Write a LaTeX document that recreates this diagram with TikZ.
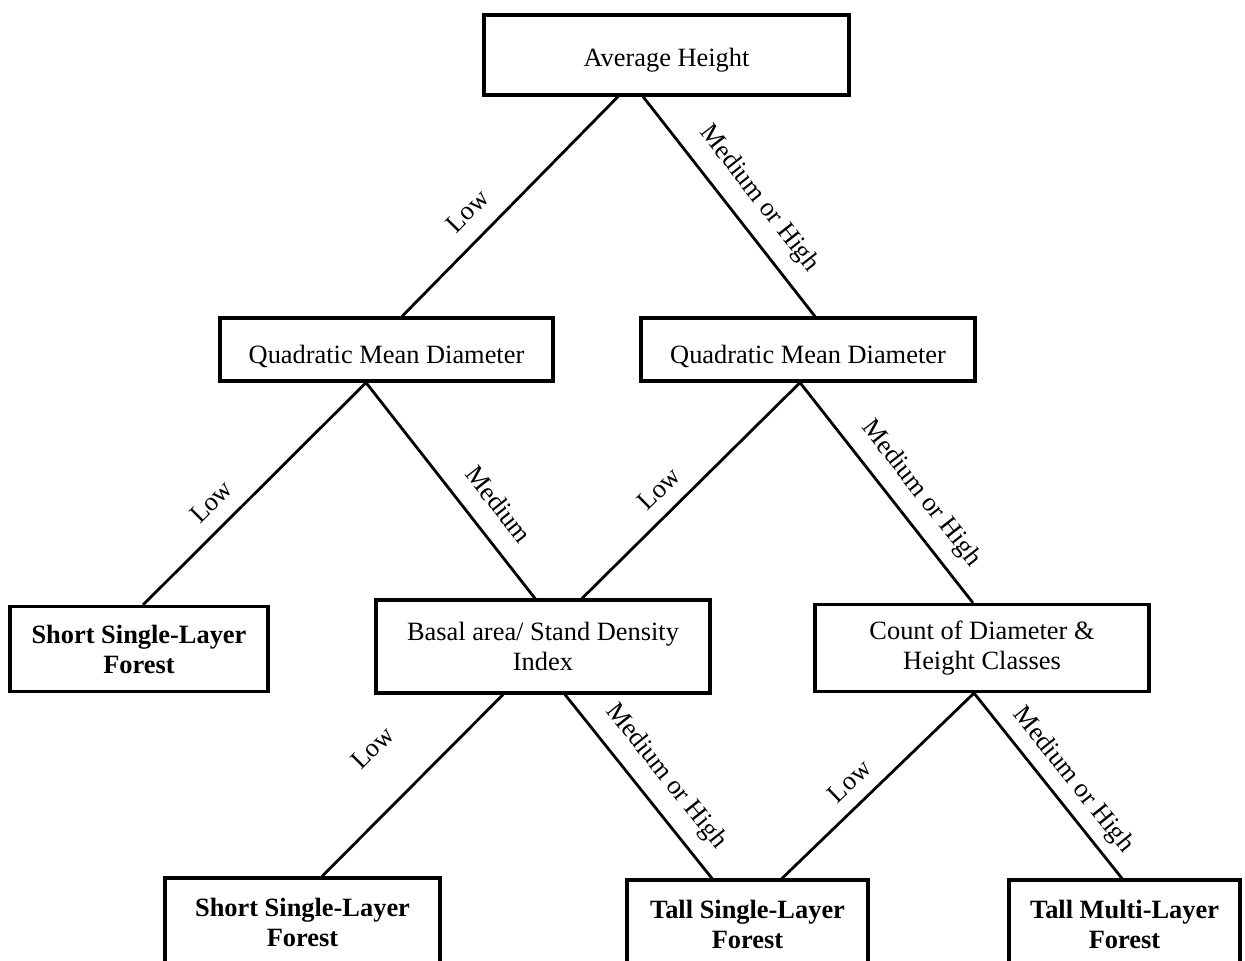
\documentclass[tikz,border=0pt]{standalone}
\usepackage{fontspec}
\setmainfont{Liberation Serif}
\usetikzlibrary{calc}
\tikzset{
  box/.style={draw, line width=1.6pt, inner sep=0pt, align=center, font=\fontsize{13.2}{15}\selectfont},
  leaf/.style={box, font=\fontsize{13.2}{15}\selectfont\bfseries},
  edge/.style={line width=1.4pt},
  lbl/.style={sloped, inner sep=0pt, font=\fontsize{13.2}{15}\selectfont}
}
\begin{document}
\begin{tikzpicture}[x=0.5pt, y=-0.5pt]
	\useasboundingbox (0,0) rectangle (1245,960);
	\clip (0,0) rectangle (1245,960);
	% Draw decision nodes
	\node[box, minimum width=182.5pt, minimum height=40pt, text height=14.5pt, text depth=3pt] (avg) at (666.5,55) {Average Height};
	\node[box, minimum width=166.5pt, minimum height=31.5pt, text height=17pt, text depth=3pt] (qmdL) at (386.5,349.5) {Quadratic Mean Diameter};
	\node[box, minimum width=167pt, minimum height=31.5pt, text height=17pt, text depth=3pt] (qmdR) at (808,349.5) {Quadratic Mean Diameter};
	\node[box, minimum width=167pt, minimum height=46.5pt] (basal) at (543,646.5) {Basal area/ Stand Density\\Index};
	\node[box, minimum width=167pt, minimum height=43.5pt] (count) at (982,648) {Count of Diameter \&\\Height Classes};

	% Draw leaf nodes
	\node[leaf, minimum width=129pt, minimum height=42.5pt] (shortA) at (139,649) {Short Single-Layer\\Forest};
	\node[leaf, minimum width=137.5pt, minimum height=44pt] (shortB) at (302.5,922) {Short Single-Layer\\Forest};
	\node[leaf, minimum width=120.5pt, minimum height=44pt] (tallS) at (747.5,924) {Tall Single-Layer\\Forest};
	\node[leaf, minimum width=115.5pt, minimum height=44pt] (tallM) at (1124.5,924) {Tall Multi-Layer\\Forest};

	% Draw edges with their labels
	\draw[edge] ($(avg.south)+(-48.5,0)$) -- node[lbl, pos=0.607, above=8.5pt] {Low} ($(qmdL.north)+(15.5,0)$);
	\draw[edge] ($(avg.south)+(-23.5,0)$) -- node[lbl, pos=0.545, above=7.5pt] {Medium or High} ($(qmdR.north)+(7,0)$);
	\draw[edge] ($(qmdL.south)+(-20.5,0)$) -- node[lbl, pos=0.615, above=7.4pt] {Low} ($(shortA.north)+(4,0)$);
	\draw[edge] ($(qmdL.south)+(-20.5,0)$) -- node[lbl, pos=0.649, above=9.5pt] {Medium} ($(basal.north)+(-8,0)$);
	\draw[edge] ($(qmdR.south)+(-8,0)$) -- node[lbl, pos=0.57, above=6.7pt] {Low} ($(basal.north)+(39,0)$);
	\draw[edge] ($(qmdR.south)+(-8,0)$) -- node[lbl, pos=0.579, above=6.6pt] {Medium or High} ($(count.north)+(-9,0)$);
	\draw[edge] ($(basal.south)+(-40,0)$) -- node[lbl, pos=0.506, above=22.4pt] {Low} ($(shortB.north)+(19.5,0)$);
	\draw[edge] ($(basal.south)+(22,0)$) -- node[lbl, pos=0.54, above=7pt] {Medium or High} ($(tallS.north)+(-35.5,0)$);
	\draw[edge] ($(count.south)+(-8,0)$) -- node[lbl, pos=0.565, above=6.5pt] {Low} ($(tallS.north)+(34.5,0)$);
	\draw[edge] ($(count.south)+(-8,0)$) -- node[lbl, pos=0.547, above=4.8pt] {Medium or High} ($(tallM.north)+(-2.5,0)$);
\end{tikzpicture}
\end{document}
